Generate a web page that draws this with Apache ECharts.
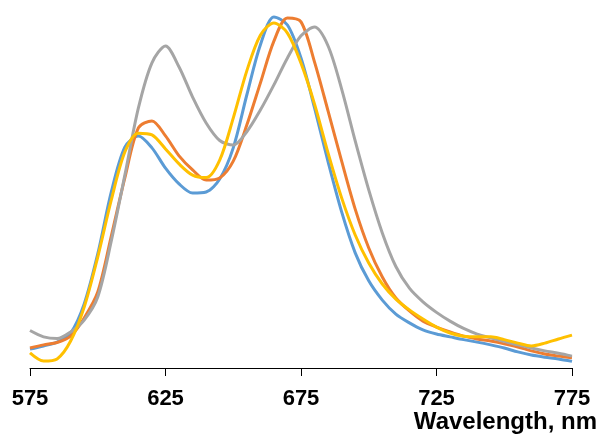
<!DOCTYPE html>
<html>
<head>
<meta charset="utf-8">
<script src="https://cdn.jsdelivr.net/npm/echarts@6/dist/echarts.min.js"></script>
<style>
html,body{margin:0;padding:0;background:#fff;}
#chart{width:598px;height:436px;}
</style>
</head>
<body>
<div id="chart"></div>
<script>
// Wavelength grid (nm)
const wavelengths = [575,580,585,590,595,600,605,610,615,620,625,630,635,640,645,650,655,660,665,670,675,680,685,690,695,700,705,710,715,720,725,730,735,740,745,750,755,760,765,770,775];
// Normalized intensity (a.u.)
const blue = [5.4,6.3,7.4,10.0,18.3,32.6,50.3,63.1,66.3,62.9,57.1,52.6,50.0,50.3,54.0,62.9,78.0,92.3,100.3,98.0,88.6,74.3,58.9,44.6,32.9,24.9,19.4,15.4,12.9,10.9,9.7,8.9,8.1,7.4,6.6,5.7,4.6,3.7,3.1,2.6,1.9];
const orange = [5.7,6.6,7.3,9.1,14.3,21.7,37.7,54.3,68.6,70.6,66.3,60.6,56.6,53.7,54.3,59.1,69.4,81.4,93.4,100.0,98.9,87.4,73.4,59.1,45.4,34.3,26.0,20.0,16.3,13.4,11.7,10.3,9.1,8.3,7.7,6.9,6.0,4.9,4.0,3.4,2.9];
const gray = [10.7,8.9,8.4,10.3,13.7,20.3,36.3,55.1,74.3,87.2,92.0,86.0,77.4,70.0,65.0,63.7,67.5,73.7,80.9,88.6,94.9,97.4,92.0,79.7,64.9,50.9,38.6,29.0,22.8,18.9,15.9,13.4,11.3,9.7,8.6,7.6,6.6,5.7,4.9,4.2,3.4];
const yellow = [4.3,2.0,2.6,7.7,17.4,31.7,48.0,61.7,67.1,66.6,62.6,58.3,55.1,54.4,59.4,71.4,84.9,95.1,98.6,95.7,87.1,75.4,61.4,48.6,38.0,30.0,24.0,19.7,16.6,14.0,11.7,10.0,9.1,8.9,8.9,8.1,7.1,6.3,7.1,8.3,9.4];
const tickLabels = [575,625,675,725,775];
const axisTitle = 'Wavelength, nm';

function pairs(arr){ return wavelengths.map((w,i)=>[w,arr[i]]); }

const chart = echarts.init(document.getElementById('chart'), null, {renderer:'canvas'});
const mk = (name, arr, color) => ({
  name, type:'line', data:pairs(arr), smooth:0.3, showSymbol:false,
  lineStyle:{color, width:3}, itemStyle:{color}, animation:false
});
chart.setOption({
  animation:false,
  grid:{left:30, right:26, top:0.5, bottom:68, containLabel:false, outerBoundsMode:'none'},
  xAxis:{
    type:'value', min:575, max:775,
    axisLine:{show:true, lineStyle:{color:'#000', width:1}},
    axisTick:{show:true, length:8, inside:false, customValues:tickLabels, lineStyle:{color:'#000', width:1}},
    axisLabel:{show:true, customValues:tickLabels, margin:20, fontFamily:'Liberation Sans', fontWeight:'bold', fontSize:22, color:'#000'},
    splitLine:{show:false},
    name:axisTitle, nameLocation:'end', nameGap:25,
    nameTextStyle:{fontFamily:'Liberation Sans', fontWeight:'bold', fontSize:24, color:'#000', align:'right', verticalAlign:'top', padding:[42,0,0,0]}
  },
  yAxis:{type:'value', min:0, max:105, show:false, splitLine:{show:false}},
  series:[
    mk('Series 1', blue, '#5B9BD5'),
    mk('Series 2', orange, '#ED7D31'),
    mk('Series 3', gray, '#A5A5A5'),
    mk('Series 4', yellow, '#FFC000')
  ]
});
</script>
</body>
</html>
